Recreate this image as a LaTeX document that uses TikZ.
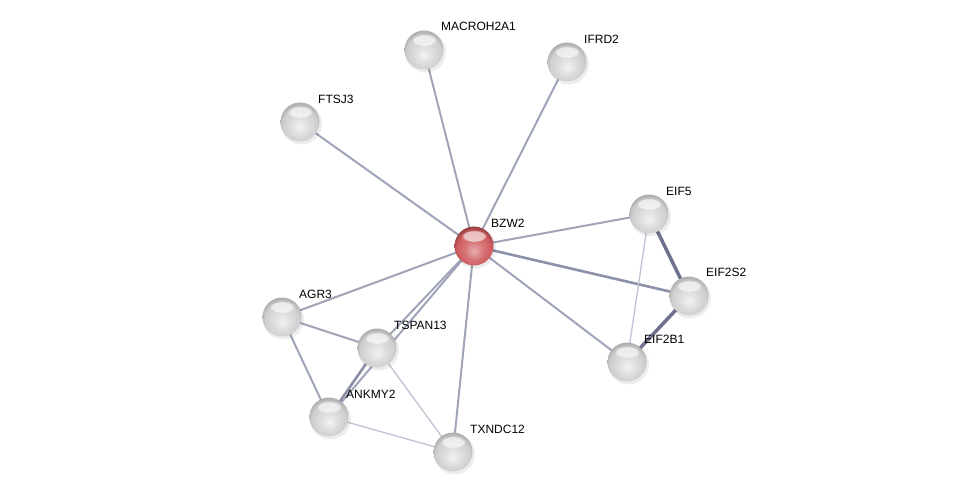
\documentclass[tikz,border=0pt]{standalone}
\usepackage{fontspec}
\setmainfont{Liberation Sans}
\usetikzlibrary{fadings,shapes.geometric}
\definecolor{redc}{RGB}{208,92,96}
\pgfdeclareradialshading{gsph}{\pgfpoint{0bp}{-7bp}}{color(0bp)=(gray!10); color(12bp)=(gray!27); color(22bp)=(gray!38); color(28bp)=(gray!65); color(50bp)=(gray!70)}
\pgfdeclareradialshading{rsph}{\pgfpoint{0bp}{-7bp}}{color(0bp)=(redc!50!white); color(12bp)=(redc!85!white); color(22bp)=(redc); color(28bp)=(redc!70!black); color(50bp)=(redc!65!black)}
\begin{document}
\begin{tikzpicture}[x=1pt,y=-1pt,
  prot/.style={circle,minimum size=39pt,inner sep=0pt,shading=gsph},
  query/.style={circle,minimum size=39pt,inner sep=0pt,shading=rsph},
  lbl/.style={anchor=west,font=\fontsize{12}{14}\selectfont,inner sep=0pt},
  edge/.style={line width=2pt,draw={rgb,255:red,160;green,164;blue,185}},
  edgethin/.style={line width=1.3pt,draw={rgb,255:red,190;green,194;blue,212}},
  edgemid/.style={line width=2.6pt,draw={rgb,255:red,140;green,144;blue,168}},
  edgethick/.style={line width=3.5pt,draw={rgb,255:red,110;green,114;blue,142}},
  shadowc/.style={circle,minimum size=41pt,inner sep=0pt,fill=black,opacity=0.07},
  hilite/.style={ellipse,minimum width=25pt,minimum height=12pt,inner sep=0pt,fill=white,fill opacity=0.6,path fading=circle with fuzzy edge 20 percent}
]
\useasboundingbox (0,0) rectangle (975,497);
% coordinates
\coordinate (cBZW2) at (474,246);
\coordinate (cMAC) at (424,50);
\coordinate (cIFRD2) at (567,62);
\coordinate (cFTSJ3) at (300,122);
\coordinate (cEIF5) at (649,214);
\coordinate (cEIF2S2) at (689,296);
\coordinate (cEIF2B1) at (627,362);
\coordinate (cAGR3) at (282,317);
\coordinate (cTSPAN13) at (377,348);
\coordinate (cANKMY2) at (329,417);
\coordinate (cTXNDC12) at (453,452);
% edges
\draw[edge] (cBZW2) -- (cMAC);
\draw[edge] (cBZW2) -- (cIFRD2);
\draw[edge] (cBZW2) -- (cFTSJ3);
\draw[edge] (cBZW2) -- (cEIF5);
\draw[edgemid] (cBZW2) -- (cEIF2S2);
\draw[edge] (cBZW2) -- (cEIF2B1);
\draw[edge] (cBZW2) -- (cAGR3);
\draw[edge] (cBZW2) -- (cTSPAN13);
\draw[edge] (cBZW2) -- (cANKMY2);
\draw[edge] (cBZW2) -- (cTXNDC12);
\draw[edgethick] (cEIF5) -- (cEIF2S2);
\draw[edgethin] (cEIF5) -- (cEIF2B1);
\draw[edgethick] (cEIF2S2) -- (cEIF2B1);
\draw[edge] (cAGR3) -- (cTSPAN13);
\draw[edge] (cAGR3) -- (cANKMY2);
\draw[edgemid] (cTSPAN13) -- (cANKMY2);
\draw[edgethin] (cTSPAN13) -- (cTXNDC12);
\draw[edgethin] (cANKMY2) -- (cTXNDC12);
% shadows
\foreach \c in {cBZW2,cMAC,cIFRD2,cFTSJ3,cEIF5,cEIF2S2,cEIF2B1,cAGR3,cTSPAN13,cANKMY2,cTXNDC12}
  \node[shadowc] at ([shift={(1.5,2)}]\c) {};
% nodes
\node[query] (BZW2) at (cBZW2) {};
\node[prot] (MAC) at (cMAC) {};
\node[prot] (IFRD2) at (cIFRD2) {};
\node[prot] (FTSJ3) at (cFTSJ3) {};
\node[prot] (EIF5) at (cEIF5) {};
\node[prot] (EIF2S2) at (cEIF2S2) {};
\node[prot] (EIF2B1) at (cEIF2B1) {};
\node[prot] (AGR3) at (cAGR3) {};
\node[prot] (TSPAN13) at (cTSPAN13) {};
\node[prot] (ANKMY2) at (cANKMY2) {};
\node[prot] (TXNDC12) at (cTXNDC12) {};
% highlights
\foreach \c in {cBZW2,cMAC,cIFRD2,cFTSJ3,cEIF5,cEIF2S2,cEIF2B1,cAGR3,cTSPAN13,cANKMY2,cTXNDC12}
  \node[hilite] at ([shift={(0,-10)}]\c) {};
% labels
\node[lbl] at ([shift={(17,-23)}]cBZW2) {BZW2};
\node[lbl] at ([shift={(17,-24)}]cMAC) {MACROH2A1};
\node[lbl] at ([shift={(17,-23)}]cIFRD2) {IFRD2};
\node[lbl] at ([shift={(18,-23)}]cFTSJ3) {FTSJ3};
\node[lbl] at ([shift={(17,-23)}]cEIF5) {EIF5};
\node[lbl] at ([shift={(17,-24)}]cEIF2S2) {EIF2S2};
\node[lbl] at ([shift={(17,-23)}]cEIF2B1) {EIF2B1};
\node[lbl] at ([shift={(17,-23)}]cAGR3) {AGR3};
\node[lbl] at ([shift={(17,-23)}]cTSPAN13) {TSPAN13};
\node[lbl] at ([shift={(17,-23)}]cANKMY2) {ANKMY2};
\node[lbl] at ([shift={(17,-23)}]cTXNDC12) {TXNDC12};
\end{tikzpicture}
\end{document}
